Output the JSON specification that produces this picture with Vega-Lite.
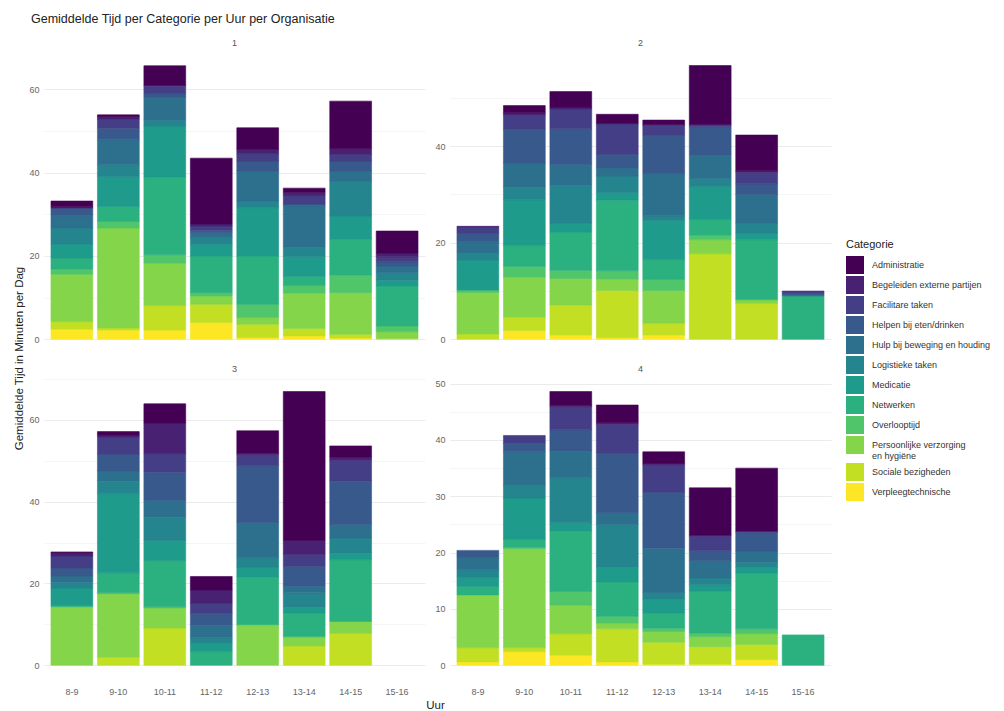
{
"$schema": "https://vega.github.io/schema/vega-lite/v6.json",
"background": "white",
"padding": {"left": 13, "top": 12, "right": 5, "bottom": 5},
"title": {"text": "Gemiddelde Tijd per Categorie per Uur per Organisatie", "anchor": "start", "fontSize": 12.5, "fontWeight": "normal", "color": "#222222", "dx": 18, "offset": 14},
"data": {"values": [
{"org":1,"uur":"8-9","cat":"Verpleegtechnische","min":2.4},
{"org":1,"uur":"8-9","cat":"Sociale bezigheden","min":1.8},
{"org":1,"uur":"8-9","cat":"Persoonlijke verzorging en hygiëne","min":11.4},
{"org":1,"uur":"8-9","cat":"Overlooptijd","min":1.3},
{"org":1,"uur":"8-9","cat":"Netwerken","min":2.6},
{"org":1,"uur":"8-9","cat":"Medicatie","min":3.4},
{"org":1,"uur":"8-9","cat":"Logistieke taken","min":3.8},
{"org":1,"uur":"8-9","cat":"Hulp bij beweging en houding","min":3.0},
{"org":1,"uur":"8-9","cat":"Helpen bij eten/drinken","min":1.8},
{"org":1,"uur":"8-9","cat":"Begeleiden externe partijen","min":0.3},
{"org":1,"uur":"8-9","cat":"Administratie","min":1.4},
{"org":1,"uur":"9-10","cat":"Verpleegtechnische","min":2.2},
{"org":1,"uur":"9-10","cat":"Sociale bezigheden","min":0.5},
{"org":1,"uur":"9-10","cat":"Persoonlijke verzorging en hygiëne","min":24},
{"org":1,"uur":"9-10","cat":"Overlooptijd","min":1.6},
{"org":1,"uur":"9-10","cat":"Netwerken","min":3.6},
{"org":1,"uur":"9-10","cat":"Medicatie","min":7.2},
{"org":1,"uur":"9-10","cat":"Logistieke taken","min":2.8},
{"org":1,"uur":"9-10","cat":"Hulp bij beweging en houding","min":6},
{"org":1,"uur":"9-10","cat":"Helpen bij eten/drinken","min":2.8},
{"org":1,"uur":"9-10","cat":"Facilitare taken","min":2.2},
{"org":1,"uur":"9-10","cat":"Begeleiden externe partijen","min":0.6},
{"org":1,"uur":"9-10","cat":"Administratie","min":0.4},
{"org":1,"uur":"10-11","cat":"Verpleegtechnische","min":2.2},
{"org":1,"uur":"10-11","cat":"Sociale bezigheden","min":5.9},
{"org":1,"uur":"10-11","cat":"Persoonlijke verzorging en hygiëne","min":10.2},
{"org":1,"uur":"10-11","cat":"Overlooptijd","min":2},
{"org":1,"uur":"10-11","cat":"Netwerken","min":18.6},
{"org":1,"uur":"10-11","cat":"Medicatie","min":12.3},
{"org":1,"uur":"10-11","cat":"Logistieke taken","min":1.4},
{"org":1,"uur":"10-11","cat":"Hulp bij beweging en houding","min":5.6},
{"org":1,"uur":"10-11","cat":"Helpen bij eten/drinken","min":0.8},
{"org":1,"uur":"10-11","cat":"Facilitare taken","min":1.8},
{"org":1,"uur":"10-11","cat":"Begeleiden externe partijen","min":0.3},
{"org":1,"uur":"10-11","cat":"Administratie","min":4.6},
{"org":1,"uur":"11-12","cat":"Verpleegtechnische","min":4},
{"org":1,"uur":"11-12","cat":"Sociale bezigheden","min":4.4},
{"org":1,"uur":"11-12","cat":"Persoonlijke verzorging en hygiëne","min":2},
{"org":1,"uur":"11-12","cat":"Overlooptijd","min":0.8},
{"org":1,"uur":"11-12","cat":"Netwerken","min":8.8},
{"org":1,"uur":"11-12","cat":"Medicatie","min":2.8},
{"org":1,"uur":"11-12","cat":"Logistieke taken","min":1.6},
{"org":1,"uur":"11-12","cat":"Hulp bij beweging en houding","min":1.2},
{"org":1,"uur":"11-12","cat":"Helpen bij eten/drinken","min":0.6},
{"org":1,"uur":"11-12","cat":"Facilitare taken","min":1},
{"org":1,"uur":"11-12","cat":"Begeleiden externe partijen","min":0.5},
{"org":1,"uur":"11-12","cat":"Administratie","min":15.8},
{"org":1,"uur":"12-13","cat":"Verpleegtechnische","min":0.4},
{"org":1,"uur":"12-13","cat":"Sociale bezigheden","min":3.2},
{"org":1,"uur":"12-13","cat":"Persoonlijke verzorging en hygiëne","min":1.6},
{"org":1,"uur":"12-13","cat":"Overlooptijd","min":3.2},
{"org":1,"uur":"12-13","cat":"Netwerken","min":11.6},
{"org":1,"uur":"12-13","cat":"Medicatie","min":11.6},
{"org":1,"uur":"12-13","cat":"Logistieke taken","min":1.6},
{"org":1,"uur":"12-13","cat":"Hulp bij beweging en houding","min":7.2},
{"org":1,"uur":"12-13","cat":"Helpen bij eten/drinken","min":2.4},
{"org":1,"uur":"12-13","cat":"Facilitare taken","min":1.8},
{"org":1,"uur":"12-13","cat":"Begeleiden externe partijen","min":1},
{"org":1,"uur":"12-13","cat":"Administratie","min":5.2},
{"org":1,"uur":"13-14","cat":"Verpleegtechnische","min":0.8},
{"org":1,"uur":"13-14","cat":"Sociale bezigheden","min":1.8},
{"org":1,"uur":"13-14","cat":"Persoonlijke verzorging en hygiëne","min":8.5},
{"org":1,"uur":"13-14","cat":"Overlooptijd","min":1.8},
{"org":1,"uur":"13-14","cat":"Netwerken","min":2.2},
{"org":1,"uur":"13-14","cat":"Medicatie","min":4.8},
{"org":1,"uur":"13-14","cat":"Logistieke taken","min":2.2},
{"org":1,"uur":"13-14","cat":"Hulp bij beweging en houding","min":10},
{"org":1,"uur":"13-14","cat":"Helpen bij eten/drinken","min":0.4},
{"org":1,"uur":"13-14","cat":"Facilitare taken","min":2},
{"org":1,"uur":"13-14","cat":"Begeleiden externe partijen","min":0.8},
{"org":1,"uur":"13-14","cat":"Administratie","min":1},
{"org":1,"uur":"14-15","cat":"Verpleegtechnische","min":0.3},
{"org":1,"uur":"14-15","cat":"Sociale bezigheden","min":0.9},
{"org":1,"uur":"14-15","cat":"Persoonlijke verzorging en hygiëne","min":10},
{"org":1,"uur":"14-15","cat":"Overlooptijd","min":4.2},
{"org":1,"uur":"14-15","cat":"Netwerken","min":8.6},
{"org":1,"uur":"14-15","cat":"Medicatie","min":5.6},
{"org":1,"uur":"14-15","cat":"Logistieke taken","min":8.4},
{"org":1,"uur":"14-15","cat":"Hulp bij beweging en houding","min":2.4},
{"org":1,"uur":"14-15","cat":"Helpen bij eten/drinken","min":2.4},
{"org":1,"uur":"14-15","cat":"Facilitare taken","min":1.6},
{"org":1,"uur":"14-15","cat":"Begeleiden externe partijen","min":1.4},
{"org":1,"uur":"14-15","cat":"Administratie","min":11.4},
{"org":1,"uur":"15-16","cat":"Sociale bezigheden","min":0.2},
{"org":1,"uur":"15-16","cat":"Persoonlijke verzorging en hygiëne","min":1.6},
{"org":1,"uur":"15-16","cat":"Overlooptijd","min":1.4},
{"org":1,"uur":"15-16","cat":"Netwerken","min":9.6},
{"org":1,"uur":"15-16","cat":"Medicatie","min":1.4},
{"org":1,"uur":"15-16","cat":"Logistieke taken","min":1.8},
{"org":1,"uur":"15-16","cat":"Hulp bij beweging en houding","min":1.6},
{"org":1,"uur":"15-16","cat":"Helpen bij eten/drinken","min":1},
{"org":1,"uur":"15-16","cat":"Facilitare taken","min":1.2},
{"org":1,"uur":"15-16","cat":"Begeleiden externe partijen","min":0.8},
{"org":1,"uur":"15-16","cat":"Administratie","min":5.4},
{"org":2,"uur":"8-9","cat":"Sociale bezigheden","min":1.1},
{"org":2,"uur":"8-9","cat":"Persoonlijke verzorging en hygiëne","min":8.6},
{"org":2,"uur":"8-9","cat":"Overlooptijd","min":0.5},
{"org":2,"uur":"8-9","cat":"Medicatie","min":6.2},
{"org":2,"uur":"8-9","cat":"Logistieke taken","min":1.4},
{"org":2,"uur":"8-9","cat":"Hulp bij beweging en houding","min":2.4},
{"org":2,"uur":"8-9","cat":"Helpen bij eten/drinken","min":1.7},
{"org":2,"uur":"8-9","cat":"Facilitare taken","min":1.4},
{"org":2,"uur":"8-9","cat":"Begeleiden externe partijen","min":0.1},
{"org":2,"uur":"9-10","cat":"Verpleegtechnische","min":1.8},
{"org":2,"uur":"9-10","cat":"Sociale bezigheden","min":2.8},
{"org":2,"uur":"9-10","cat":"Persoonlijke verzorging en hygiëne","min":8.3},
{"org":2,"uur":"9-10","cat":"Overlooptijd","min":2.2},
{"org":2,"uur":"9-10","cat":"Netwerken","min":4.3},
{"org":2,"uur":"9-10","cat":"Medicatie","min":9.5},
{"org":2,"uur":"9-10","cat":"Logistieke taken","min":2.6},
{"org":2,"uur":"9-10","cat":"Hulp bij beweging en houding","min":5},
{"org":2,"uur":"9-10","cat":"Helpen bij eten/drinken","min":7},
{"org":2,"uur":"9-10","cat":"Facilitare taken","min":2.9},
{"org":2,"uur":"9-10","cat":"Begeleiden externe partijen","min":0.5},
{"org":2,"uur":"9-10","cat":"Administratie","min":1.5},
{"org":2,"uur":"10-11","cat":"Verpleegtechnische","min":0.9},
{"org":2,"uur":"10-11","cat":"Sociale bezigheden","min":6.2},
{"org":2,"uur":"10-11","cat":"Persoonlijke verzorging en hygiëne","min":5.5},
{"org":2,"uur":"10-11","cat":"Overlooptijd","min":1.7},
{"org":2,"uur":"10-11","cat":"Netwerken","min":7.9},
{"org":2,"uur":"10-11","cat":"Medicatie","min":1.9},
{"org":2,"uur":"10-11","cat":"Logistieke taken","min":7.8},
{"org":2,"uur":"10-11","cat":"Hulp bij beweging en houding","min":4.3},
{"org":2,"uur":"10-11","cat":"Helpen bij eten/drinken","min":7.4},
{"org":2,"uur":"10-11","cat":"Facilitare taken","min":4.1},
{"org":2,"uur":"10-11","cat":"Begeleiden externe partijen","min":0.3},
{"org":2,"uur":"10-11","cat":"Administratie","min":3.3},
{"org":2,"uur":"11-12","cat":"Verpleegtechnische","min":0.3},
{"org":2,"uur":"11-12","cat":"Sociale bezigheden","min":9.8},
{"org":2,"uur":"11-12","cat":"Persoonlijke verzorging en hygiëne","min":2.4},
{"org":2,"uur":"11-12","cat":"Overlooptijd","min":1.7},
{"org":2,"uur":"11-12","cat":"Netwerken","min":14.6},
{"org":2,"uur":"11-12","cat":"Medicatie","min":1.6},
{"org":2,"uur":"11-12","cat":"Logistieke taken","min":3.4},
{"org":2,"uur":"11-12","cat":"Hulp bij beweging en houding","min":1.7},
{"org":2,"uur":"11-12","cat":"Helpen bij eten/drinken","min":2.8},
{"org":2,"uur":"11-12","cat":"Facilitare taken","min":6.3},
{"org":2,"uur":"11-12","cat":"Begeleiden externe partijen","min":0.2},
{"org":2,"uur":"11-12","cat":"Administratie","min":1.8},
{"org":2,"uur":"12-13","cat":"Verpleegtechnische","min":0.9},
{"org":2,"uur":"12-13","cat":"Sociale bezigheden","min":2.4},
{"org":2,"uur":"12-13","cat":"Persoonlijke verzorging en hygiëne","min":6.8},
{"org":2,"uur":"12-13","cat":"Overlooptijd","min":2.3},
{"org":2,"uur":"12-13","cat":"Netwerken","min":4.1},
{"org":2,"uur":"12-13","cat":"Medicatie","min":8.1},
{"org":2,"uur":"12-13","cat":"Logistieke taken","min":1},
{"org":2,"uur":"12-13","cat":"Hulp bij beweging en houding","min":8.7},
{"org":2,"uur":"12-13","cat":"Helpen bij eten/drinken","min":7.9},
{"org":2,"uur":"12-13","cat":"Facilitare taken","min":2.1},
{"org":2,"uur":"12-13","cat":"Begeleiden externe partijen","min":0.2},
{"org":2,"uur":"12-13","cat":"Administratie","min":0.9},
{"org":2,"uur":"13-14","cat":"Sociale bezigheden","min":17.7},
{"org":2,"uur":"13-14","cat":"Persoonlijke verzorging en hygiëne","min":2.9},
{"org":2,"uur":"13-14","cat":"Overlooptijd","min":1},
{"org":2,"uur":"13-14","cat":"Netwerken","min":3.2},
{"org":2,"uur":"13-14","cat":"Medicatie","min":6.8},
{"org":2,"uur":"13-14","cat":"Logistieke taken","min":1.7},
{"org":2,"uur":"13-14","cat":"Hulp bij beweging en houding","min":4.8},
{"org":2,"uur":"13-14","cat":"Helpen bij eten/drinken","min":5.9},
{"org":2,"uur":"13-14","cat":"Facilitare taken","min":0.3},
{"org":2,"uur":"13-14","cat":"Begeleiden externe partijen","min":0.3},
{"org":2,"uur":"13-14","cat":"Administratie","min":12.1},
{"org":2,"uur":"14-15","cat":"Sociale bezigheden","min":7.4},
{"org":2,"uur":"14-15","cat":"Persoonlijke verzorging en hygiëne","min":0.8},
{"org":2,"uur":"14-15","cat":"Netwerken","min":12.4},
{"org":2,"uur":"14-15","cat":"Medicatie","min":1.4},
{"org":2,"uur":"14-15","cat":"Logistieke taken","min":2.1},
{"org":2,"uur":"14-15","cat":"Hulp bij beweging en houding","min":5.9},
{"org":2,"uur":"14-15","cat":"Helpen bij eten/drinken","min":2.2},
{"org":2,"uur":"14-15","cat":"Facilitare taken","min":2.4},
{"org":2,"uur":"14-15","cat":"Begeleiden externe partijen","min":0.3},
{"org":2,"uur":"14-15","cat":"Administratie","min":7.4},
{"org":2,"uur":"15-16","cat":"Netwerken","min":9},
{"org":2,"uur":"15-16","cat":"Helpen bij eten/drinken","min":0.5},
{"org":2,"uur":"15-16","cat":"Facilitare taken","min":0.5},
{"org":3,"uur":"8-9","cat":"Persoonlijke verzorging en hygiëne","min":14.3},
{"org":3,"uur":"8-9","cat":"Netwerken","min":0.3},
{"org":3,"uur":"8-9","cat":"Medicatie","min":4.3},
{"org":3,"uur":"8-9","cat":"Logistieke taken","min":1.4},
{"org":3,"uur":"8-9","cat":"Hulp bij beweging en houding","min":1.5},
{"org":3,"uur":"8-9","cat":"Helpen bij eten/drinken","min":2},
{"org":3,"uur":"8-9","cat":"Facilitare taken","min":2.9},
{"org":3,"uur":"8-9","cat":"Begeleiden externe partijen","min":0.8},
{"org":3,"uur":"8-9","cat":"Administratie","min":0.2},
{"org":3,"uur":"9-10","cat":"Sociale bezigheden","min":2},
{"org":3,"uur":"9-10","cat":"Persoonlijke verzorging en hygiëne","min":15.5},
{"org":3,"uur":"9-10","cat":"Overlooptijd","min":0.2},
{"org":3,"uur":"9-10","cat":"Netwerken","min":4.9},
{"org":3,"uur":"9-10","cat":"Medicatie","min":19.3},
{"org":3,"uur":"9-10","cat":"Logistieke taken","min":3.1},
{"org":3,"uur":"9-10","cat":"Hulp bij beweging en houding","min":2.5},
{"org":3,"uur":"9-10","cat":"Helpen bij eten/drinken","min":4.1},
{"org":3,"uur":"9-10","cat":"Facilitare taken","min":4.2},
{"org":3,"uur":"9-10","cat":"Begeleiden externe partijen","min":0.5},
{"org":3,"uur":"9-10","cat":"Administratie","min":0.8},
{"org":3,"uur":"10-11","cat":"Sociale bezigheden","min":9.1},
{"org":3,"uur":"10-11","cat":"Persoonlijke verzorging en hygiëne","min":4.9},
{"org":3,"uur":"10-11","cat":"Overlooptijd","min":0.3},
{"org":3,"uur":"10-11","cat":"Netwerken","min":11.3},
{"org":3,"uur":"10-11","cat":"Medicatie","min":4.9},
{"org":3,"uur":"10-11","cat":"Logistieke taken","min":5.7},
{"org":3,"uur":"10-11","cat":"Hulp bij beweging en houding","min":4.1},
{"org":3,"uur":"10-11","cat":"Helpen bij eten/drinken","min":6.9},
{"org":3,"uur":"10-11","cat":"Facilitare taken","min":4.5},
{"org":3,"uur":"10-11","cat":"Begeleiden externe partijen","min":7.5},
{"org":3,"uur":"10-11","cat":"Administratie","min":4.7},
{"org":3,"uur":"11-12","cat":"Netwerken","min":3.3},
{"org":3,"uur":"11-12","cat":"Medicatie","min":2},
{"org":3,"uur":"11-12","cat":"Logistieke taken","min":1.4},
{"org":3,"uur":"11-12","cat":"Hulp bij beweging en houding","min":3.1},
{"org":3,"uur":"11-12","cat":"Helpen bij eten/drinken","min":2.9},
{"org":3,"uur":"11-12","cat":"Facilitare taken","min":2.4},
{"org":3,"uur":"11-12","cat":"Begeleiden externe partijen","min":3.3},
{"org":3,"uur":"11-12","cat":"Administratie","min":3.3},
{"org":3,"uur":"12-13","cat":"Persoonlijke verzorging en hygiëne","min":9.8},
{"org":3,"uur":"12-13","cat":"Overlooptijd","min":0.2},
{"org":3,"uur":"12-13","cat":"Netwerken","min":11.6},
{"org":3,"uur":"12-13","cat":"Medicatie","min":2.4},
{"org":3,"uur":"12-13","cat":"Logistieke taken","min":2.3},
{"org":3,"uur":"12-13","cat":"Hulp bij beweging en houding","min":8.6},
{"org":3,"uur":"12-13","cat":"Helpen bij eten/drinken","min":13.9},
{"org":3,"uur":"12-13","cat":"Facilitare taken","min":2.7},
{"org":3,"uur":"12-13","cat":"Begeleiden externe partijen","min":0.3},
{"org":3,"uur":"12-13","cat":"Administratie","min":5.5},
{"org":3,"uur":"13-14","cat":"Sociale bezigheden","min":4.7},
{"org":3,"uur":"13-14","cat":"Persoonlijke verzorging en hygiëne","min":2.2},
{"org":3,"uur":"13-14","cat":"Overlooptijd","min":0.2},
{"org":3,"uur":"13-14","cat":"Netwerken","min":5.7},
{"org":3,"uur":"13-14","cat":"Medicatie","min":1.4},
{"org":3,"uur":"13-14","cat":"Logistieke taken","min":3.5},
{"org":3,"uur":"13-14","cat":"Hulp bij beweging en houding","min":1.6},
{"org":3,"uur":"13-14","cat":"Helpen bij eten/drinken","min":4.9},
{"org":3,"uur":"13-14","cat":"Facilitare taken","min":2.9},
{"org":3,"uur":"13-14","cat":"Begeleiden externe partijen","min":3.4},
{"org":3,"uur":"13-14","cat":"Administratie","min":36.4},
{"org":3,"uur":"14-15","cat":"Sociale bezigheden","min":7.8},
{"org":3,"uur":"14-15","cat":"Persoonlijke verzorging en hygiëne","min":2.9},
{"org":3,"uur":"14-15","cat":"Netwerken","min":15.1},
{"org":3,"uur":"14-15","cat":"Medicatie","min":1.6},
{"org":3,"uur":"14-15","cat":"Logistieke taken","min":3.7},
{"org":3,"uur":"14-15","cat":"Hulp bij beweging en houding","min":3.3},
{"org":3,"uur":"14-15","cat":"Helpen bij eten/drinken","min":10.6},
{"org":3,"uur":"14-15","cat":"Facilitare taken","min":5.1},
{"org":3,"uur":"14-15","cat":"Begeleiden externe partijen","min":0.8},
{"org":3,"uur":"14-15","cat":"Administratie","min":2.7},
{"org":4,"uur":"8-9","cat":"Verpleegtechnische","min":0.6},
{"org":4,"uur":"8-9","cat":"Sociale bezigheden","min":2.5},
{"org":4,"uur":"8-9","cat":"Persoonlijke verzorging en hygiëne","min":9.4},
{"org":4,"uur":"8-9","cat":"Netwerken","min":1.5},
{"org":4,"uur":"8-9","cat":"Medicatie","min":1.6},
{"org":4,"uur":"8-9","cat":"Logistieke taken","min":1.4},
{"org":4,"uur":"8-9","cat":"Hulp bij beweging en houding","min":2.1},
{"org":4,"uur":"8-9","cat":"Helpen bij eten/drinken","min":1.3},
{"org":4,"uur":"9-10","cat":"Verpleegtechnische","min":2.4},
{"org":4,"uur":"9-10","cat":"Sociale bezigheden","min":0.7},
{"org":4,"uur":"9-10","cat":"Persoonlijke verzorging en hygiëne","min":17.6},
{"org":4,"uur":"9-10","cat":"Overlooptijd","min":0.3},
{"org":4,"uur":"9-10","cat":"Netwerken","min":1.4},
{"org":4,"uur":"9-10","cat":"Medicatie","min":7.3},
{"org":4,"uur":"9-10","cat":"Logistieke taken","min":2.2},
{"org":4,"uur":"9-10","cat":"Hulp bij beweging en houding","min":6},
{"org":4,"uur":"9-10","cat":"Helpen bij eten/drinken","min":1.5},
{"org":4,"uur":"9-10","cat":"Facilitare taken","min":1.4},
{"org":4,"uur":"10-11","cat":"Verpleegtechnische","min":1.8},
{"org":4,"uur":"10-11","cat":"Sociale bezigheden","min":3.8},
{"org":4,"uur":"10-11","cat":"Persoonlijke verzorging en hygiëne","min":5.1},
{"org":4,"uur":"10-11","cat":"Overlooptijd","min":2.4},
{"org":4,"uur":"10-11","cat":"Netwerken","min":10.7},
{"org":4,"uur":"10-11","cat":"Medicatie","min":1.5},
{"org":4,"uur":"10-11","cat":"Logistieke taken","min":8},
{"org":4,"uur":"10-11","cat":"Hulp bij beweging en houding","min":4.7},
{"org":4,"uur":"10-11","cat":"Helpen bij eten/drinken","min":3.8},
{"org":4,"uur":"10-11","cat":"Facilitare taken","min":4.1},
{"org":4,"uur":"10-11","cat":"Begeleiden externe partijen","min":0.2},
{"org":4,"uur":"10-11","cat":"Administratie","min":2.5},
{"org":4,"uur":"11-12","cat":"Verpleegtechnische","min":0.6},
{"org":4,"uur":"11-12","cat":"Sociale bezigheden","min":5.9},
{"org":4,"uur":"11-12","cat":"Persoonlijke verzorging en hygiëne","min":1},
{"org":4,"uur":"11-12","cat":"Overlooptijd","min":1.2},
{"org":4,"uur":"11-12","cat":"Netwerken","min":6.1},
{"org":4,"uur":"11-12","cat":"Medicatie","min":2.6},
{"org":4,"uur":"11-12","cat":"Logistieke taken","min":7.6},
{"org":4,"uur":"11-12","cat":"Hulp bij beweging en houding","min":2.1},
{"org":4,"uur":"11-12","cat":"Helpen bij eten/drinken","min":10.6},
{"org":4,"uur":"11-12","cat":"Facilitare taken","min":5.1},
{"org":4,"uur":"11-12","cat":"Begeleiden externe partijen","min":0.3},
{"org":4,"uur":"11-12","cat":"Administratie","min":3.1},
{"org":4,"uur":"12-13","cat":"Verpleegtechnische","min":0.2},
{"org":4,"uur":"12-13","cat":"Sociale bezigheden","min":3.9},
{"org":4,"uur":"12-13","cat":"Persoonlijke verzorging en hygiëne","min":1.9},
{"org":4,"uur":"12-13","cat":"Overlooptijd","min":0.6},
{"org":4,"uur":"12-13","cat":"Netwerken","min":2.7},
{"org":4,"uur":"12-13","cat":"Medicatie","min":2.4},
{"org":4,"uur":"12-13","cat":"Logistieke taken","min":1.2},
{"org":4,"uur":"12-13","cat":"Hulp bij beweging en houding","min":7.9},
{"org":4,"uur":"12-13","cat":"Helpen bij eten/drinken","min":9.9},
{"org":4,"uur":"12-13","cat":"Facilitare taken","min":4.9},
{"org":4,"uur":"12-13","cat":"Begeleiden externe partijen","min":0.2},
{"org":4,"uur":"12-13","cat":"Administratie","min":2.1},
{"org":4,"uur":"13-14","cat":"Verpleegtechnische","min":0.2},
{"org":4,"uur":"13-14","cat":"Sociale bezigheden","min":3.1},
{"org":4,"uur":"13-14","cat":"Persoonlijke verzorging en hygiëne","min":1.8},
{"org":4,"uur":"13-14","cat":"Overlooptijd","min":0.6},
{"org":4,"uur":"13-14","cat":"Netwerken","min":7.5},
{"org":4,"uur":"13-14","cat":"Medicatie","min":1.1},
{"org":4,"uur":"13-14","cat":"Logistieke taken","min":1.2},
{"org":4,"uur":"13-14","cat":"Hulp bij beweging en houding","min":3.1},
{"org":4,"uur":"13-14","cat":"Helpen bij eten/drinken","min":1.8},
{"org":4,"uur":"13-14","cat":"Facilitare taken","min":2.5},
{"org":4,"uur":"13-14","cat":"Begeleiden externe partijen","min":0.2},
{"org":4,"uur":"13-14","cat":"Administratie","min":8.4},
{"org":4,"uur":"14-15","cat":"Verpleegtechnische","min":1},
{"org":4,"uur":"14-15","cat":"Sociale bezigheden","min":2.7},
{"org":4,"uur":"14-15","cat":"Persoonlijke verzorging en hygiëne","min":1.9},
{"org":4,"uur":"14-15","cat":"Overlooptijd","min":0.9},
{"org":4,"uur":"14-15","cat":"Netwerken","min":9.9},
{"org":4,"uur":"14-15","cat":"Medicatie","min":1},
{"org":4,"uur":"14-15","cat":"Logistieke taken","min":0.9},
{"org":4,"uur":"14-15","cat":"Hulp bij beweging en houding","min":2},
{"org":4,"uur":"14-15","cat":"Helpen bij eten/drinken","min":3.3},
{"org":4,"uur":"14-15","cat":"Facilitare taken","min":0.2},
{"org":4,"uur":"14-15","cat":"Administratie","min":11.2},
{"org":4,"uur":"15-16","cat":"Netwerken","min":5.4}
]},
"columns": 2,
"spacing": {"row": 25, "column": 25},
"bounds": "flush",
"concat": [
{
 "title": {"text": "1"},
 "width": 381, "height": 301,
 "transform": [{"filter": "datum.org === 1"}],
 "mark": {"type": "bar", "strokeWidth": 0.6},
 "encoding": {
  "x": {"field": "uur", "type": "ordinal", "scale": {"domain": ["8-9","9-10","10-11","11-12","12-13","13-14","14-15","15-16"], "paddingInner": 0.1, "paddingOuter": 0.15}, "axis": {"labels": false, "title": null, "bandPosition": 0.5}},
  "y": {"field": "min", "type": "quantitative", "stack": "zero", "scale": {"domain": [-3.3, 69], "nice": false, "zero": false}, "axis": {"values": [0,10,20,30,40,50,60], "labelExpr": "datum.value % 20 === 0 ? datum.label : ''", "gridWidth": {"condition": {"test": "datum.value % 20 === 0", "value": 1}, "value": 0.5}, "title": "Gemiddelde Tijd in Minuten per Dag", "titleX": -25, "titleY": 306, "titleAngle": -90, "titleAlign": "center", "titleBaseline": "middle"}},
  "color": {"field": "cat", "type": "nominal", "scale": {"domain": ["Administratie","Begeleiden externe partijen","Facilitare taken","Helpen bij eten/drinken","Hulp bij beweging en houding","Logistieke taken","Medicatie","Netwerken","Overlooptijd","Persoonlijke verzorging en hygiëne","Sociale bezigheden","Verpleegtechnische"], "range": ["#440154","#482173","#433E85","#38598C","#2D708E","#25858E","#1E9B8A","#2BB07F","#51C56A","#85D54A","#C2DF23","#FDE725"]}, "legend": {"title": "Categorie", "labelExpr": "indexof(datum.label, 'Persoonlijke') === 0 ? ['Persoonlijke verzorging', 'en hygiëne'] : datum.label"}},
  "stroke": {"field": "cat", "type": "nominal", "scale": {"domain": ["Administratie","Begeleiden externe partijen","Facilitare taken","Helpen bij eten/drinken","Hulp bij beweging en houding","Logistieke taken","Medicatie","Netwerken","Overlooptijd","Persoonlijke verzorging en hygiëne","Sociale bezigheden","Verpleegtechnische"], "range": ["#440154","#482173","#433E85","#38598C","#2D708E","#25858E","#1E9B8A","#2BB07F","#51C56A","#85D54A","#C2DF23","#FDE725"]}, "legend": null},
  "order": {"field": "cat", "sort": "descending"}
 }
},
{
 "title": {"text": "2"},
 "width": 381, "height": 301,
 "transform": [{"filter": "datum.org === 2"}],
 "mark": {"type": "bar", "strokeWidth": 0.6},
 "encoding": {
  "x": {"field": "uur", "type": "ordinal", "scale": {"domain": ["8-9","9-10","10-11","11-12","12-13","13-14","14-15","15-16"], "paddingInner": 0.1, "paddingOuter": 0.15}, "axis": {"labels": false, "title": null, "bandPosition": 0.5}},
  "y": {"field": "min", "type": "quantitative", "stack": "zero", "scale": {"domain": [-2.84, 59.5], "nice": false, "zero": false}, "axis": {"values": [0,10,20,30,40,50], "labelExpr": "datum.value % 20 === 0 ? datum.label : ''", "gridWidth": {"condition": {"test": "datum.value % 20 === 0", "value": 1}, "value": 0.5}, "title": null}},
  "color": {"field": "cat", "type": "nominal", "scale": {"domain": ["Administratie","Begeleiden externe partijen","Facilitare taken","Helpen bij eten/drinken","Hulp bij beweging en houding","Logistieke taken","Medicatie","Netwerken","Overlooptijd","Persoonlijke verzorging en hygiëne","Sociale bezigheden","Verpleegtechnische"], "range": ["#440154","#482173","#433E85","#38598C","#2D708E","#25858E","#1E9B8A","#2BB07F","#51C56A","#85D54A","#C2DF23","#FDE725"]}, "legend": {"title": "Categorie", "labelExpr": "indexof(datum.label, 'Persoonlijke') === 0 ? ['Persoonlijke verzorging', 'en hygiëne'] : datum.label"}},
  "stroke": {"field": "cat", "type": "nominal", "scale": {"domain": ["Administratie","Begeleiden externe partijen","Facilitare taken","Helpen bij eten/drinken","Hulp bij beweging en houding","Logistieke taken","Medicatie","Netwerken","Overlooptijd","Persoonlijke verzorging en hygiëne","Sociale bezigheden","Verpleegtechnische"], "range": ["#440154","#482173","#433E85","#38598C","#2D708E","#25858E","#1E9B8A","#2BB07F","#51C56A","#85D54A","#C2DF23","#FDE725"]}, "legend": null},
  "order": {"field": "cat", "sort": "descending"}
 }
},
{
 "title": {"text": "3"},
 "width": 381, "height": 301,
 "transform": [{"filter": "datum.org === 3"}],
 "mark": {"type": "bar", "strokeWidth": 0.6},
 "encoding": {
  "x": {"field": "uur", "type": "ordinal", "scale": {"domain": ["8-9","9-10","10-11","11-12","12-13","13-14","14-15","15-16"], "paddingInner": 0.1, "paddingOuter": 0.15}, "axis": {"title": "Uur", "labelAngle": 0, "labelPadding": 8, "bandPosition": 0.5, "titleX": 391, "titleY": 20, "titleAlign": "center", "titleBaseline": "top", "titleFontSize": 11.5}},
  "y": {"field": "min", "type": "quantitative", "stack": "zero", "scale": {"domain": [-3.35, 70.2], "nice": false, "zero": false}, "axis": {"values": [0,10,20,30,40,50,60,70], "labelExpr": "datum.value % 20 === 0 ? datum.label : ''", "gridWidth": {"condition": {"test": "datum.value % 20 === 0", "value": 1}, "value": 0.5}, "title": null}},
  "color": {"field": "cat", "type": "nominal", "scale": {"domain": ["Administratie","Begeleiden externe partijen","Facilitare taken","Helpen bij eten/drinken","Hulp bij beweging en houding","Logistieke taken","Medicatie","Netwerken","Overlooptijd","Persoonlijke verzorging en hygiëne","Sociale bezigheden","Verpleegtechnische"], "range": ["#440154","#482173","#433E85","#38598C","#2D708E","#25858E","#1E9B8A","#2BB07F","#51C56A","#85D54A","#C2DF23","#FDE725"]}, "legend": {"title": "Categorie", "labelExpr": "indexof(datum.label, 'Persoonlijke') === 0 ? ['Persoonlijke verzorging', 'en hygiëne'] : datum.label"}},
  "stroke": {"field": "cat", "type": "nominal", "scale": {"domain": ["Administratie","Begeleiden externe partijen","Facilitare taken","Helpen bij eten/drinken","Hulp bij beweging en houding","Logistieke taken","Medicatie","Netwerken","Overlooptijd","Persoonlijke verzorging en hygiëne","Sociale bezigheden","Verpleegtechnische"], "range": ["#440154","#482173","#433E85","#38598C","#2D708E","#25858E","#1E9B8A","#2BB07F","#51C56A","#85D54A","#C2DF23","#FDE725"]}, "legend": null},
  "order": {"field": "cat", "sort": "descending"}
 }
},
{
 "title": {"text": "4"},
 "width": 381, "height": 301,
 "transform": [{"filter": "datum.org === 4"}],
 "mark": {"type": "bar", "strokeWidth": 0.6},
 "encoding": {
  "x": {"field": "uur", "type": "ordinal", "scale": {"domain": ["8-9","9-10","10-11","11-12","12-13","13-14","14-15","15-16"], "paddingInner": 0.1, "paddingOuter": 0.15}, "axis": {"title": null, "labelAngle": 0, "labelPadding": 8, "bandPosition": 0.5}},
  "y": {"field": "min", "type": "quantitative", "stack": "zero", "scale": {"domain": [-2.43, 51], "nice": false, "zero": false}, "axis": {"values": [0,5,10,15,20,25,30,35,40,45,50], "labelExpr": "datum.value % 10 === 0 ? datum.label : ''", "gridWidth": {"condition": {"test": "datum.value % 10 === 0", "value": 1}, "value": 0.5}, "title": null}},
  "color": {"field": "cat", "type": "nominal", "scale": {"domain": ["Administratie","Begeleiden externe partijen","Facilitare taken","Helpen bij eten/drinken","Hulp bij beweging en houding","Logistieke taken","Medicatie","Netwerken","Overlooptijd","Persoonlijke verzorging en hygiëne","Sociale bezigheden","Verpleegtechnische"], "range": ["#440154","#482173","#433E85","#38598C","#2D708E","#25858E","#1E9B8A","#2BB07F","#51C56A","#85D54A","#C2DF23","#FDE725"]}, "legend": {"title": "Categorie", "labelExpr": "indexof(datum.label, 'Persoonlijke') === 0 ? ['Persoonlijke verzorging', 'en hygiëne'] : datum.label"}},
  "stroke": {"field": "cat", "type": "nominal", "scale": {"domain": ["Administratie","Begeleiden externe partijen","Facilitare taken","Helpen bij eten/drinken","Hulp bij beweging en houding","Logistieke taken","Medicatie","Netwerken","Overlooptijd","Persoonlijke verzorging en hygiëne","Sociale bezigheden","Verpleegtechnische"], "range": ["#440154","#482173","#433E85","#38598C","#2D708E","#25858E","#1E9B8A","#2BB07F","#51C56A","#85D54A","#C2DF23","#FDE725"]}, "legend": null},
  "order": {"field": "cat", "sort": "descending"}
 }
}
],
"resolve": {"scale": {"color": "shared", "stroke": "shared"}, "legend": {"color": "shared"}},
"config": {
 "font": "Liberation Sans",
 "view": {"stroke": null},
 "axis": {"domain": false, "ticks": false, "gridColor": "#ebebeb", "labelColor": "#666666", "labelFontSize": 9, "titleFontSize": 11.5, "titleFontWeight": "normal", "titleColor": "#222222", "labelPadding": 5},
 "title": {"fontSize": 9, "fontWeight": "normal", "color": "#555555", "offset": 4},
 "legend": {"orient": "none", "legendX": 802, "legendY": 187, "titleFontSize": 11, "titleFontWeight": "normal", "titleColor": "#222222", "titlePadding": 6, "symbolType": "square", "symbolSize": 324, "symbolStrokeWidth": 0, "symbolOpacity": 1, "labelFontSize": 9, "labelColor": "#333333", "labelOffset": 8, "rowPadding": 2, "labelLimit": 220}
}
}
